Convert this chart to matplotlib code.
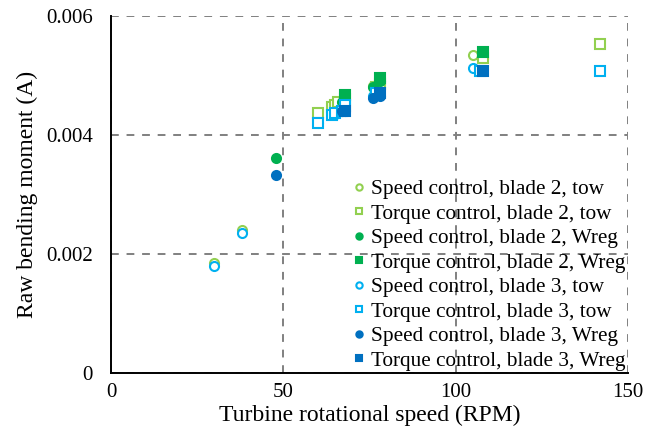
import matplotlib
matplotlib.use("Agg")
import matplotlib.pyplot as plt

plt.rcParams['font.family'] = ['Liberation Serif', 'DejaVu Serif']

# Data
sp2_tow_x = [30, 38, 60, 65, 67, 76, 78, 105]
sp2_tow_y = [0.00185, 0.0024, 0.0043, 0.00445, 0.0045, 0.00482, 0.00485, 0.00535]
tq2_tow_x = [60, 64, 65, 66, 68, 77, 78, 108, 142]
tq2_tow_y = [0.00437, 0.00447, 0.0045, 0.00455, 0.0046, 0.0048, 0.00485, 0.0053, 0.00553]
sp2_wr_x = [48, 67, 76, 78]
sp2_wr_y = [0.00362, 0.00455, 0.0048, 0.0049]
tq2_wr_x = [68, 78, 108]
tq2_wr_y = [0.00467, 0.00495, 0.0054]
sp3_tow_x = [30, 38, 60, 65, 67, 76, 105]
sp3_tow_y = [0.0018, 0.00235, 0.0042, 0.00435, 0.0044, 0.00465, 0.00512]
tq3_tow_x = [60, 64, 65, 67, 68, 77, 107, 142]
tq3_tow_y = [0.0042, 0.00433, 0.00437, 0.0044, 0.0045, 0.0047, 0.00507, 0.00507]
sp3_wr_x = [48, 67, 68, 76, 78]
sp3_wr_y = [0.00332, 0.0044, 0.0044, 0.00463, 0.00465]
tq3_wr_x = [68, 78, 108]
tq3_wr_y = [0.0044, 0.0047, 0.00508]

labels = ["Speed control, blade 2, tow", "Torque control, blade 2, tow",
          "Speed control, blade 2, Wreg", "Torque control, blade 2, Wreg",
          "Speed control, blade 3, tow", "Torque control, blade 3, tow",
          "Speed control, blade 3, Wreg", "Torque control, blade 3, Wreg"]

x_ticks = [0, 50, 100, 150]
y_ticks = [0, 0.002, 0.004, 0.006]
y_tick_labels = ["0", "0.002", "0.004", "0.006"]

lg = '#92D050'; g = '#00B050'; lb = '#00B0F0'; b = '#0070C0'

fig = plt.figure(figsize=(6.59, 4.41), dpi=100)
ax = fig.add_axes([111 / 659, (441 - 373) / 441, (628 - 111) / 659, (373 - 16) / 441])

series = [
    (sp2_tow_x, sp2_tow_y, 'o', lg, False),
    (tq2_tow_x, tq2_tow_y, 's', lg, False),
    (sp2_wr_x, sp2_wr_y, 'o', g, True),
    (tq2_wr_x, tq2_wr_y, 's', g, True),
    (sp3_tow_x, sp3_tow_y, 'o', lb, False),
    (tq3_tow_x, tq3_tow_y, 's', lb, False),
    (sp3_wr_x, sp3_wr_y, 'o', b, True),
    (tq3_wr_x, tq3_wr_y, 's', b, True),
]
for (xs, ys, m, c, filled), lab in zip(series, labels):
    ax.plot(xs, ys, linestyle='none', marker=m, markersize=6.5,
            markerfacecolor=c if filled else 'white', markeredgecolor=c,
            markeredgewidth=1.5, label=lab, zorder=3)

ax.set_xlim(0, 150)
ax.set_ylim(0, 0.006)
ax.set_xticks(x_ticks)
ax.set_xticklabels([str(v) for v in x_ticks])
ax.set_yticks(y_ticks)
ax.set_yticklabels(y_tick_labels)
ax.tick_params(length=0, labelsize=15)
ax.tick_params(axis='y', pad=13)
ax.tick_params(axis='x', pad=7)
ax.grid(True, linestyle=(0, (4, 4)), color='#808080', linewidth=1.4)
ax.set_axisbelow(True)
for s in ['top', 'right']:
    ax.spines[s].set_visible(False)
ax.spines['left'].set_linewidth(1.4)
ax.spines['bottom'].set_linewidth(1.4)

ax.set_xlabel("Turbine rotational speed (RPM)", fontsize=17, labelpad=2)
ax.set_ylabel("Raw bending moment (A)", fontsize=17, labelpad=6)

leg = ax.legend(loc='lower right', bbox_to_anchor=(1.0, 0.0), frameon=False,
                fontsize=15.3, handletextpad=0.2, labelspacing=0.22,
                handlelength=0.8, borderpad=0.05, borderaxespad=0.05,
                markerscale=0.7)

fig.savefig("out.png", dpi=100)
